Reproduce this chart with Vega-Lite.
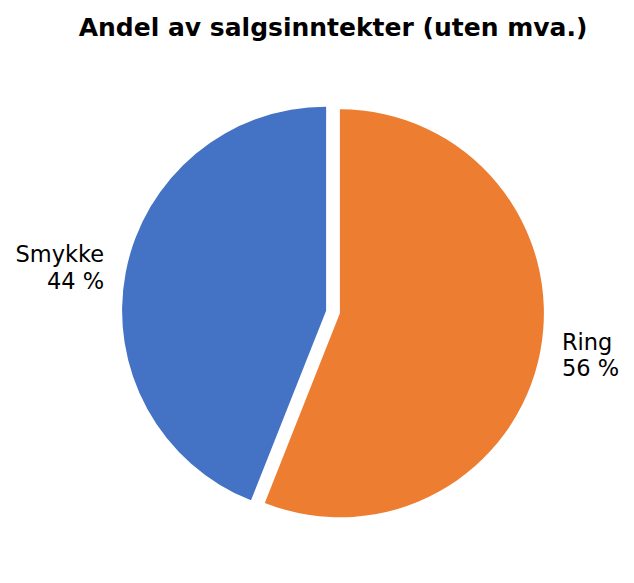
{
  "$schema": "https://vega.github.io/schema/vega-lite/v6.json",
  "width": 602,
  "height": 540,
  "autosize": "none",
  "padding": {"left": 32, "top": 42, "right": 0, "bottom": 0},
  "background": "white",
  "title": {
    "text": "Andel av salgsinntekter (uten mva.)",
    "font": "DejaVu Sans",
    "fontSize": 25,
    "fontWeight": "bold",
    "color": "black",
    "anchor": "middle",
    "offset": 1
  },
  "data": {
    "values": [
      {"kategori": "Ring", "andel": 56, "etikett": ["Ring", "56 %"]},
      {"kategori": "Smykke", "andel": 44, "etikett": ["Smykke", "44 %"]}
    ]
  },
  "encoding": {
    "theta": {"field": "andel", "type": "quantitative", "stack": true},
    "order": {"field": "andel", "sort": "descending"},
    "color": {
      "field": "kategori",
      "type": "nominal",
      "scale": {"domain": ["Smykke", "Ring"], "range": ["#4472C4", "#ED7D31"]},
      "legend": null
    }
  },
  "layer": [
    {
      "mark": {"type": "arc", "radius": 204, "xOffset": 6.9, "yOffset": 1.3},
      "encoding": {
        "opacity": {"condition": {"test": "datum.kategori === 'Ring'", "value": 1}, "value": 0}
      }
    },
    {
      "mark": {"type": "arc", "radius": 204, "xOffset": -6.9, "yOffset": -1.3},
      "encoding": {
        "opacity": {"condition": {"test": "datum.kategori === 'Smykke'", "value": 1}, "value": 0}
      }
    },
    {
      "mark": {
        "type": "text", "radius": 226, "xOffset": 6.9, "yOffset": 1.3, "dy": -13,
        "align": "left", "baseline": "middle",
        "font": "DejaVu Sans", "fontSize": 22.5, "lineHeight": 26.5
      },
      "encoding": {
        "text": {"field": "etikett"},
        "color": {"value": "black"},
        "opacity": {"condition": {"test": "datum.kategori === 'Ring'", "value": 1}, "value": 0}
      }
    },
    {
      "mark": {
        "type": "text", "radius": 226, "xOffset": -6.9, "yOffset": -1.3, "dy": -13,
        "align": "right", "baseline": "middle",
        "font": "DejaVu Sans", "fontSize": 22.5, "lineHeight": 26.5
      },
      "encoding": {
        "text": {"field": "etikett"},
        "color": {"value": "black"},
        "opacity": {"condition": {"test": "datum.kategori === 'Smykke'", "value": 1}, "value": 0}
      }
    }
  ]
}
